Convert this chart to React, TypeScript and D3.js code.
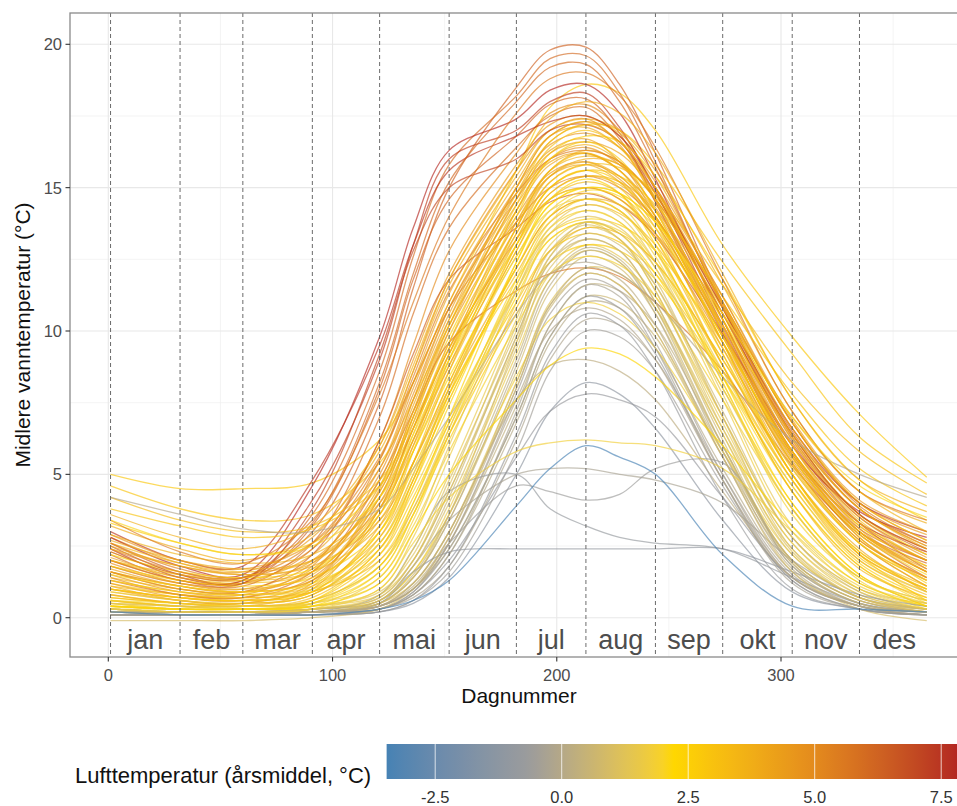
import React from 'react';
import * as d3 from 'd3';

// ---------- data ----------
const KNOT_DAYS = [1, 32, 60, 91, 121, 136, 152, 182, 197, 213, 228, 244, 274, 305, 335, 365];

const MONTH_LABELS = ["jan", "feb", "mar", "apr", "mai", "jun", "jul", "aug", "sep", "okt", "nov", "des"];
const MONTH_START_DAYS = [1, 32, 60, 91, 121, 152, 182, 213, 244, 274, 305, 335, 366];

const Y_TICKS = [0, 5, 10, 15, 20];
const Y_MINOR = [2.5, 7.5, 12.5, 17.5];
const X_TICKS = [0, 100, 200, 300];
const X_MINOR = [50, 150, 250, 350];
const LEGEND_TICKS = [-2.5, 0, 2.5, 5, 7.5];
const AIR_RANGE = [-3.46, 7.9];
const COLOR_STOPS = ["#4682B4", "#9C9C9C", "#FFD700", "#E3891D", "#B22222"];

type Lake = { air: number; t: number[] };

const RED_LAKES: Lake[] = [
  { air: 6.3, t: [2.6, 1.6, 1.4, 3.0, 7.5, 11.5, 15.0, 18.5, 19.8, 19.9, 18.6, 16.2, 11.0, 6.5, 3.8, 2.6] },
  { air: 6.0, t: [2.2, 1.3, 1.3, 3.6, 8.6, 12.6, 15.8, 18.2, 19.5, 19.6, 18.3, 15.9, 10.8, 6.2, 3.5, 2.2] },
  { air: 7.8, t: [2.8, 1.8, 1.5, 4.6, 9.8, 13.6, 16.3, 17.4, 18.4, 18.6, 17.6, 15.3, 10.4, 6.0, 3.7, 2.8] },
  { air: 7.3, t: [2.4, 1.4, 1.3, 4.1, 9.0, 13.0, 16.0, 17.0, 18.0, 18.3, 17.1, 14.9, 10.2, 5.8, 3.3, 2.3] },
  { air: 6.2, t: [1.8, 1.2, 1.2, 3.2, 8.0, 11.8, 14.6, 16.8, 17.9, 18.1, 16.9, 14.5, 9.9, 5.6, 3.0, 1.9] },
  { air: 5.9, t: [2.0, 1.3, 1.1, 2.6, 7.0, 10.6, 13.6, 16.4, 17.5, 17.8, 16.7, 14.6, 10.1, 5.7, 3.1, 2.0] },
  { air: 7.5, t: [3.0, 2.0, 1.8, 4.8, 9.5, 13.0, 15.6, 16.8, 17.3, 17.5, 16.8, 15.0, 10.8, 6.6, 4.0, 3.0] },
  { air: 6.4, t: [1.6, 1.0, 0.9, 2.2, 6.2, 9.2, 11.8, 13.6, 14.5, 14.8, 14.4, 13.3, 9.9, 6.1, 3.3, 1.7] },
  { air: 5.8, t: [1.3, 0.8, 0.7, 1.6, 4.8, 7.2, 9.6, 11.4, 12.0, 12.2, 11.9, 11.0, 8.6, 5.3, 2.9, 1.4] },
  { air: 7.1, t: [2.5, 1.5, 1.2, 3.8, 9.2, 12.8, 15.0, 16.0, 17.0, 17.2, 16.6, 14.8, 10.6, 6.4, 3.6, 2.4] },
  { air: 6.1, t: [2.3, 1.5, 1.4, 3.3, 8.2, 12.0, 15.2, 18.0, 19.2, 19.3, 18.0, 15.7, 10.9, 6.3, 3.6, 2.3] },
  { air: 5.6, t: [3.4, 2.3, 1.9, 3.4, 7.8, 11.0, 14.0, 17.6, 18.8, 19.0, 18.2, 16.4, 11.8, 7.2, 4.4, 3.4] },
];

const ORANGE_LAKES: Lake[] = [
  { air: 5.0, t: [2.0, 1.3, 1.2, 2.4, 6.2, 9.5, 12.8, 16.2, 17.6, 17.9, 17.0, 15.0, 10.4, 5.8, 3.2, 2.0] },
  { air: 4.7, t: [1.5, 0.9, 0.8, 1.8, 5.5, 8.6, 11.8, 15.6, 17.0, 17.4, 16.5, 14.5, 10.0, 5.5, 2.9, 1.6] },
  { air: 4.4, t: [2.8, 1.9, 1.6, 2.8, 6.0, 9.0, 12.0, 15.8, 17.2, 17.5, 16.8, 15.2, 11.2, 6.8, 4.0, 2.9] },
  { air: 4.2, t: [1.0, 0.6, 0.5, 1.2, 4.5, 7.6, 10.8, 14.8, 16.3, 16.7, 15.9, 14.0, 9.6, 5.2, 2.6, 1.1] },
  { air: 4.0, t: [2.3, 1.5, 1.3, 2.2, 5.2, 8.2, 11.3, 15.2, 16.8, 17.1, 16.4, 14.8, 10.8, 6.4, 3.6, 2.4] },
  { air: 4.8, t: [1.9, 1.2, 1.0, 1.9, 5.0, 7.8, 10.8, 14.6, 16.0, 16.4, 15.8, 14.3, 10.4, 6.0, 3.3, 2.0] },
  { air: 3.8, t: [3.2, 2.4, 2.0, 2.9, 5.8, 8.6, 11.6, 15.4, 17.0, 17.4, 17.0, 15.6, 11.6, 7.2, 4.4, 3.3] },
  { air: 4.5, t: [1.2, 0.7, 0.6, 1.3, 4.2, 7.0, 10.0, 14.0, 15.5, 15.9, 15.3, 13.8, 9.8, 5.6, 2.8, 1.3] },
  { air: 5.4, t: [2.6, 1.7, 1.4, 2.4, 5.5, 8.4, 11.4, 14.8, 16.0, 16.3, 15.9, 14.6, 11.0, 6.8, 3.9, 2.6] },
  { air: 4.1, t: [1.7, 1.1, 0.9, 1.6, 4.6, 7.4, 10.4, 14.4, 15.9, 16.2, 15.6, 14.0, 10.0, 5.7, 3.0, 1.7] },
  { air: 3.9, t: [0.8, 0.5, 0.4, 1.0, 3.8, 6.6, 9.6, 13.8, 15.4, 15.8, 15.2, 13.6, 9.4, 5.0, 2.4, 0.9] },
  { air: 4.3, t: [2.1, 1.4, 1.2, 2.0, 4.8, 7.6, 10.6, 15.0, 16.8, 17.3, 16.6, 15.0, 10.9, 6.3, 3.5, 2.1] },
  { air: 3.7, t: [3.6, 2.8, 2.4, 3.2, 6.0, 8.8, 11.8, 15.6, 17.4, 18.0, 17.6, 16.2, 12.0, 7.6, 4.8, 3.7] },
  { air: 4.9, t: [1.4, 0.8, 0.7, 1.4, 4.0, 6.6, 9.4, 13.2, 14.6, 15.0, 14.6, 13.4, 9.6, 5.4, 2.7, 1.4] },
  { air: 5.2, t: [2.4, 1.6, 1.4, 2.6, 5.6, 8.2, 10.8, 13.8, 15.0, 15.4, 15.0, 13.9, 10.6, 6.6, 3.8, 2.5] },
  { air: 3.8, t: [1.1, 0.6, 0.5, 1.1, 3.6, 6.2, 9.2, 13.6, 15.4, 15.9, 15.4, 14.0, 9.8, 5.3, 2.6, 1.1] },
  { air: 4.6, t: [2.9, 2.0, 1.7, 2.6, 5.2, 8.0, 11.0, 15.0, 16.5, 16.9, 16.4, 15.0, 11.2, 6.9, 4.1, 3.0] },
  { air: 4.0, t: [1.6, 1.0, 0.9, 1.7, 4.4, 7.2, 10.2, 14.2, 15.8, 16.2, 15.6, 14.2, 10.2, 5.8, 3.0, 1.6] },
  { air: 4.2, t: [1.6, 1.1, 0.9, 1.3, 3.8, 6.8, 10.0, 14.6, 16.2, 16.6, 16.2, 14.8, 10.6, 6.0, 3.1, 1.6] },
];

const YELLOW_LAKES: Lake[] = [
  { air: 2.8, t: [5.0, 4.5, 4.5, 4.7, 6.2, 8.2, 11.0, 15.6, 17.8, 18.6, 18.3, 17.0, 13.0, 9.8, 7.1, 4.9] },
  { air: 2.9, t: [4.6, 3.8, 3.4, 3.6, 5.4, 7.6, 10.2, 14.6, 16.6, 17.2, 17.0, 15.8, 12.4, 9.2, 6.3, 4.7] },
  { air: 3.2, t: [2.0, 1.4, 1.2, 1.6, 3.8, 6.2, 9.0, 13.6, 15.6, 16.3, 15.9, 14.6, 10.6, 6.2, 3.4, 2.0] },
  { air: 2.7, t: [1.2, 0.8, 0.7, 1.0, 3.0, 5.4, 8.2, 13.0, 15.0, 15.6, 15.2, 13.8, 9.8, 5.6, 2.8, 1.2] },
  { air: 2.4, t: [0.6, 0.4, 0.3, 0.6, 2.4, 4.6, 7.4, 12.4, 14.4, 15.0, 14.6, 13.2, 9.2, 5.0, 2.2, 0.6] },
  { air: 3.5, t: [2.6, 1.9, 1.6, 2.0, 4.2, 6.6, 9.4, 13.8, 15.6, 16.1, 15.8, 14.7, 11.0, 6.8, 4.0, 2.7] },
  { air: 3.6, t: [1.6, 1.1, 0.9, 1.3, 3.4, 5.8, 8.6, 13.2, 15.2, 15.8, 15.4, 14.0, 10.0, 5.8, 3.0, 1.6] },
  { air: 2.6, t: [3.3, 2.6, 2.2, 2.6, 4.6, 7.0, 9.8, 14.2, 16.2, 16.8, 16.6, 15.4, 11.8, 7.6, 4.8, 3.4] },
  { air: 3.1, t: [0.9, 0.6, 0.5, 0.8, 2.6, 4.8, 7.6, 12.2, 14.0, 14.6, 14.2, 12.8, 8.8, 4.8, 2.1, 0.9] },
  { air: 2.2, t: [2.2, 1.6, 1.4, 1.7, 3.6, 5.8, 8.4, 12.6, 14.4, 15.0, 14.8, 13.8, 10.4, 6.4, 3.6, 2.2] },
  { air: 3.3, t: [1.4, 1.0, 0.8, 1.1, 2.8, 5.0, 7.8, 12.0, 13.8, 14.4, 14.1, 13.0, 9.4, 5.4, 2.7, 1.4] },
  { air: 2.0, t: [0.5, 0.3, 0.3, 0.5, 2.0, 4.0, 6.8, 11.6, 13.6, 14.2, 13.8, 12.4, 8.4, 4.4, 1.8, 0.5] },
  { air: 3.6, t: [2.9, 2.2, 1.9, 2.2, 4.0, 6.2, 8.8, 13.0, 14.8, 15.4, 15.2, 14.2, 10.8, 7.0, 4.4, 3.0] },
  { air: 2.5, t: [1.8, 1.3, 1.1, 1.4, 3.0, 5.2, 7.8, 11.8, 13.4, 13.9, 13.7, 12.8, 9.6, 5.8, 3.2, 1.8] },
  { air: 2.8, t: [1.0, 0.7, 0.6, 0.9, 2.2, 4.2, 6.8, 11.0, 12.8, 13.4, 13.1, 12.0, 8.6, 4.8, 2.2, 1.0] },
  { air: 3.0, t: [3.8, 3.2, 2.8, 3.1, 4.6, 6.6, 9.2, 13.2, 15.0, 15.6, 15.4, 14.4, 11.2, 7.8, 5.2, 3.9] },
  { air: 2.3, t: [0.4, 0.3, 0.3, 0.4, 1.6, 3.6, 6.4, 11.2, 13.2, 13.8, 13.4, 12.0, 8.0, 4.0, 1.5, 0.4] },
  { air: 3.9, t: [2.4, 1.8, 1.5, 1.8, 3.4, 5.4, 8.0, 12.2, 14.0, 14.6, 14.4, 13.4, 10.2, 6.4, 3.8, 2.4] },
  { air: 1.9, t: [1.3, 0.9, 0.8, 1.0, 2.4, 4.4, 7.0, 11.4, 13.2, 13.8, 13.5, 12.4, 9.0, 5.2, 2.6, 1.3] },
  { air: 2.6, t: [0.7, 0.5, 0.4, 0.6, 1.8, 3.6, 6.2, 10.6, 12.4, 13.0, 12.8, 11.8, 8.4, 4.6, 1.9, 0.7] },
  { air: 3.5, t: [2.0, 1.5, 1.3, 1.6, 3.2, 5.4, 8.2, 12.8, 14.8, 15.4, 15.1, 13.9, 10.2, 6.0, 3.3, 2.0] },
  { air: 2.1, t: [1.5, 1.1, 0.9, 1.2, 2.6, 4.8, 7.6, 12.2, 14.2, 14.9, 14.7, 13.6, 9.8, 5.6, 2.9, 1.5] },
  { air: 3.2, t: [4.2, 3.4, 3.0, 3.2, 4.8, 6.8, 9.4, 13.4, 15.2, 15.8, 15.7, 14.8, 11.6, 8.2, 5.8, 4.3] },
  { air: 1.9, t: [0.3, 0.2, 0.2, 0.3, 1.4, 3.2, 5.8, 10.2, 12.0, 12.6, 12.3, 11.2, 7.6, 3.8, 1.3, 0.3] },
  { air: 3.8, t: [2.7, 2.0, 1.7, 2.0, 3.8, 6.0, 8.8, 13.4, 15.4, 16.0, 15.8, 14.6, 11.0, 6.8, 4.0, 2.7] },
  { air: 3.4, t: [1.1, 0.8, 0.7, 0.9, 2.0, 3.8, 6.4, 10.8, 12.8, 13.6, 13.4, 12.4, 9.0, 5.0, 2.3, 1.1] },
  { air: 2.9, t: [0.6, 0.4, 0.4, 0.6, 2.2, 4.6, 7.8, 13.0, 15.0, 15.6, 15.0, 13.4, 8.8, 4.4, 1.8, 0.6] },
  { air: 3.4, t: [0.8, 0.5, 0.5, 0.8, 2.8, 5.4, 8.6, 13.6, 15.6, 16.2, 15.6, 13.8, 9.2, 4.8, 2.0, 0.8] },
  { air: 2.4, t: [0.4, 0.3, 0.3, 0.5, 1.8, 4.0, 7.0, 12.4, 14.6, 15.3, 14.8, 13.0, 8.4, 4.0, 1.5, 0.4] },
  { air: 3.7, t: [1.0, 0.7, 0.6, 0.9, 3.2, 6.0, 9.2, 14.2, 16.0, 16.5, 15.9, 14.2, 9.6, 5.0, 2.2, 1.0] },
  { air: 1.9, t: [0.5, 0.3, 0.3, 0.5, 1.6, 3.6, 6.6, 11.8, 14.0, 14.8, 14.4, 12.8, 8.2, 3.8, 1.4, 0.5] },
  { air: 3.3, t: [0.7, 0.5, 0.4, 0.7, 2.4, 4.8, 8.0, 12.8, 14.6, 15.2, 14.8, 13.2, 8.8, 4.4, 1.7, 0.7] },
  { air: 3.6, t: [1.8, 1.2, 1.0, 1.5, 4.2, 7.0, 10.2, 14.8, 16.6, 17.2, 16.6, 15.0, 10.4, 5.8, 3.0, 1.8] },
  { air: 3.1, t: [1.3, 0.9, 0.8, 1.2, 3.6, 6.4, 9.6, 14.4, 16.4, 17.0, 16.4, 14.6, 10.0, 5.4, 2.6, 1.3] },
  { air: 3.9, t: [2.5, 1.8, 1.5, 1.9, 4.4, 7.2, 10.4, 15.0, 16.8, 17.3, 16.9, 15.4, 11.0, 6.6, 3.8, 2.5] },
  { air: 2.7, t: [1.0, 0.7, 0.6, 0.9, 3.0, 5.8, 9.0, 14.0, 16.0, 16.6, 16.0, 14.2, 9.6, 5.0, 2.3, 1.0] },
  { air: 2.1, t: [3.4, 2.6, 2.2, 2.5, 4.2, 6.4, 9.0, 13.0, 14.6, 15.0, 14.8, 13.8, 10.6, 7.0, 4.6, 3.5] },
  { air: 1.8, t: [0.3, 0.2, 0.2, 0.3, 1.0, 2.6, 4.2, 5.8, 6.1, 6.2, 6.1, 6.0, 5.2, 3.0, 1.0, 0.3] },
  { air: 2.3, t: [0.4, 0.3, 0.3, 0.4, 1.2, 3.0, 5.0, 7.6, 8.8, 9.4, 9.2, 8.4, 6.0, 3.2, 1.2, 0.4] },
];

const GRAY_LAKES: Lake[] = [
  { air: 0.5, t: [0.2, 0.2, 0.2, 0.2, 0.4, 1.2, 3.0, 8.0, 10.8, 12.0, 11.6, 10.0, 5.8, 2.0, 0.6, 0.2] },
  { air: 0.0, t: [0.1, 0.1, 0.1, 0.2, 0.3, 0.8, 2.2, 6.8, 9.6, 11.0, 10.8, 9.4, 5.2, 1.6, 0.4, 0.1] },
  { air: 1.6, t: [0.3, 0.2, 0.2, 0.3, 0.6, 1.6, 3.8, 9.2, 11.8, 12.8, 12.4, 10.8, 6.4, 2.4, 0.8, 0.3] },
  { air: 0.3, t: [0.2, 0.1, 0.1, 0.2, 0.4, 1.0, 2.6, 7.4, 10.2, 11.6, 11.4, 10.2, 6.0, 2.0, 0.6, 0.2] },
  { air: -0.5, t: [0.1, 0.1, 0.1, 0.1, 0.2, 0.6, 1.6, 5.8, 8.6, 10.0, 9.8, 8.6, 4.6, 1.3, 0.3, 0.1] },
  { air: 1.4, t: [0.4, 0.3, 0.3, 0.4, 0.8, 2.0, 4.4, 9.6, 12.0, 13.0, 12.6, 11.2, 7.0, 2.8, 1.0, 0.4] },
  { air: -1.2, t: [0.1, 0.1, 0.1, 0.1, 0.2, 0.5, 1.4, 5.0, 7.2, 8.2, 7.8, 6.6, 3.4, 0.9, 0.3, 0.1] },
  { air: -0.8, t: [0.2, 0.1, 0.1, 0.2, 0.3, 0.8, 2.0, 5.6, 7.2, 7.8, 7.6, 7.0, 4.2, 1.4, 0.4, 0.2] },
  { air: 0.8, t: [0.2, 0.2, 0.2, 0.2, 0.5, 1.4, 3.4, 8.6, 11.4, 12.6, 12.2, 10.6, 6.0, 2.0, 0.6, 0.2] },
  { air: 1.2, t: [0.3, 0.2, 0.2, 0.3, 0.5, 1.2, 3.0, 8.2, 11.0, 12.2, 12.0, 10.8, 6.6, 2.6, 0.8, 0.3] },
  { air: -0.2, t: [0.1, 0.1, 0.1, 0.1, 0.3, 0.7, 1.8, 6.2, 9.0, 10.4, 10.2, 9.0, 5.0, 1.5, 0.4, 0.1] },
  { air: 0.6, t: [0.2, 0.2, 0.2, 0.2, 0.4, 1.0, 2.4, 7.0, 9.8, 11.2, 11.0, 9.8, 5.6, 1.9, 0.5, 0.2] },
  { air: 1.2, t: [0.5, 0.4, 0.3, 0.4, 0.9, 2.2, 4.8, 10.0, 12.6, 13.6, 13.2, 11.6, 7.0, 2.8, 1.0, 0.5] },
  { air: -0.4, t: [0.1, 0.1, 0.1, 0.2, 0.3, 0.9, 2.6, 7.8, 10.6, 11.8, 11.4, 9.6, 5.0, 1.4, 0.4, 0.1] },
  { air: 0.2, t: [0.2, 0.2, 0.2, 0.2, 0.4, 1.2, 3.0, 7.6, 8.8, 9.0, 8.6, 7.6, 4.4, 1.4, 0.4, 0.2] },
  { air: 1.8, t: [0.3, 0.3, 0.3, 0.3, 0.6, 1.6, 3.6, 8.4, 10.4, 11.0, 10.6, 9.4, 5.8, 2.2, 0.7, 0.3] },
  { air: -0.3, t: [0.2, 0.2, 0.2, 0.2, 0.6, 1.8, 3.4, 5.0, 5.2, 5.2, 5.0, 4.8, 4.0, 2.0, 0.7, 0.3] },
  { air: -0.9, t: [0.2, 0.2, 0.2, 0.2, 0.8, 2.4, 4.4, 5.0, 3.8, 3.2, 2.8, 2.6, 2.4, 1.4, 0.5, 0.2] },
  { air: -0.6, t: [0.1, 0.1, 0.1, 0.2, 0.4, 1.0, 2.6, 4.6, 4.4, 4.1, 4.3, 5.2, 5.4, 1.8, 0.5, 0.2] },
  { air: 1.5, t: [0.3, 0.2, 0.2, 0.3, 0.8, 2.4, 5.0, 10.4, 13.0, 13.8, 13.2, 11.4, 6.8, 2.6, 0.9, 0.3] },
  { air: 1.0, t: [0.2, 0.2, 0.2, 0.2, 0.6, 1.8, 4.0, 9.4, 12.2, 13.2, 12.8, 11.0, 6.4, 2.2, 0.7, 0.2] },
  { air: 1.7, t: [0.4, 0.3, 0.3, 0.4, 1.0, 2.8, 5.6, 11.0, 13.4, 14.2, 13.8, 12.2, 7.6, 3.0, 1.1, 0.4] },
  { air: 0.1, t: [0.2, 0.1, 0.1, 0.2, 0.5, 1.4, 3.4, 8.8, 11.6, 12.8, 12.4, 10.6, 5.8, 1.8, 0.5, 0.2] },
  { air: -0.6, t: [0.1, 0.1, 0.1, 0.1, 0.3, 0.9, 2.4, 7.0, 9.8, 11.2, 10.8, 9.2, 4.8, 1.3, 0.3, 0.1] },
  { air: 0.7, t: [0.3, 0.2, 0.2, 0.3, 0.7, 2.0, 4.4, 9.8, 12.4, 13.4, 13.0, 11.6, 7.2, 2.8, 0.9, 0.3] },
  { air: 1.6, t: [0.9, 0.6, 0.5, 0.8, 2.6, 5.0, 8.0, 12.6, 14.2, 14.6, 14.2, 12.8, 8.6, 4.6, 2.0, 0.9] },
  { air: 1.3, t: [0.6, 0.4, 0.4, 0.6, 1.8, 3.8, 6.6, 11.4, 13.4, 14.0, 13.6, 12.2, 8.0, 3.8, 1.4, 0.6] },
  { air: -0.1, t: [4.2, 3.6, 3.1, 3.0, 3.8, 5.2, 7.0, 10.6, 12.0, 12.4, 12.0, 11.0, 8.4, 6.2, 5.0, 4.2] },
  { air: -1.0, t: [0.2, 0.2, 0.2, 0.2, 0.5, 1.6, 2.3, 2.4, 2.4, 2.4, 2.4, 2.4, 2.4, 1.6, 0.8, 0.4] },
  { air: 0.9, t: [-0.1, -0.1, -0.1, 0.0, 0.3, 1.0, 2.8, 8.2, 10.9, 12.0, 11.6, 10.0, 5.6, 1.6, 0.3, -0.1] },
  { air: 0.4, t: [0.2, 0.2, 0.2, 0.2, 0.5, 1.5, 3.6, 9.0, 11.8, 12.9, 12.5, 10.8, 6.0, 1.9, 0.5, 0.2] },
  { air: 1.1, t: [0.3, 0.2, 0.2, 0.3, 0.7, 2.0, 4.6, 10.2, 12.8, 13.7, 13.2, 11.4, 6.6, 2.3, 0.7, 0.3] },
  { air: -0.3, t: [0.1, 0.1, 0.1, 0.1, 0.3, 0.8, 2.2, 7.2, 10.2, 11.6, 11.2, 9.4, 4.8, 1.2, 0.3, 0.1] },
  { air: 0.9, t: [0.2, 0.2, 0.2, 0.2, 0.5, 1.4, 3.6, 9.6, 12.6, 13.8, 13.4, 11.8, 7.0, 2.4, 0.7, 0.2] },
  { air: 0.2, t: [0.1, 0.1, 0.1, 0.2, 0.4, 1.1, 2.8, 8.0, 10.9, 12.2, 11.8, 10.2, 5.6, 1.7, 0.4, 0.1] },
  { air: 1.4, t: [0.5, 0.4, 0.4, 0.5, 1.2, 3.0, 6.0, 11.4, 13.6, 14.4, 14.0, 12.4, 7.8, 3.2, 1.2, 0.5] },
  { air: -0.7, t: [0.1, 0.1, 0.1, 0.1, 0.2, 0.6, 1.8, 6.4, 9.2, 10.6, 10.2, 8.6, 4.2, 1.0, 0.3, 0.1] },
  { air: 0.6, t: [0.3, 0.2, 0.2, 0.3, 0.6, 1.8, 4.2, 9.8, 12.4, 13.2, 12.8, 11.0, 6.2, 2.0, 0.6, 0.3] },
  { air: 1.9, t: [0.6, 0.5, 0.4, 0.5, 1.4, 3.4, 6.4, 11.6, 13.8, 14.6, 14.2, 12.6, 8.2, 3.6, 1.4, 0.6] },
  { air: -0.1, t: [0.2, 0.1, 0.1, 0.2, 0.4, 1.0, 2.6, 7.6, 10.0, 10.8, 10.4, 9.0, 4.8, 1.4, 0.4, 0.2] },
];

const BLUE_LAKES: Lake[] = [
  { air: -3.4, t: [0.2, 0.1, 0.1, 0.1, 0.3, 0.6, 1.3, 3.9, 5.2, 6.0, 5.6, 5.0, 2.2, 0.4, 0.3, 0.2] },
];

// ---------- layout ----------
const W = 957;
const H = 806;
const PANEL = { left: 70, top: 13, right: 968, bottom: 657 };
const FONT = "'Liberation Sans', Arial, Helvetica, sans-serif";

export default function App() {
  const x = d3.scaleLinear().domain([0, 300]).range([108.3, 781]);
  const y = d3.scaleLinear().domain([0, 20]).range([617.7, 44.3]);
  const legX = d3.scaleLinear().domain([0, 2.5]).range([561.7, 688.2]);

  const stopVals = d3.range(COLOR_STOPS.length).map(
    (i) => AIR_RANGE[0] + (i * (AIR_RANGE[1] - AIR_RANGE[0])) / (COLOR_STOPS.length - 1)
  );
  const color = d3
    .scaleLinear<string>()
    .domain(stopVals)
    .range(COLOR_STOPS)
    .interpolate(d3.interpolateLab)
    .clamp(true);

  const families = [GRAY_LAKES, YELLOW_LAKES, ORANGE_LAKES, RED_LAKES];
  const maxLen = d3.max(families, (f) => f.length) as number;
  const ordered: Lake[] = [];
  for (let i = 0; i < maxLen; i++) {
    families.forEach((f) => {
      if (i < f.length) ordered.push(f[i]);
    });
  }
  BLUE_LAKES.forEach((l) => ordered.push(l));

  const line = d3
    .line<[number, number]>()
    .x((d) => x(d[0]))
    .y((d) => y(d[1]))
    .curve(d3.curveCatmullRom.alpha(0.5));

  const gradStops = d3.range(0, 1.0001, 0.02).map((f) => {
    const v = AIR_RANGE[0] + f * (AIR_RANGE[1] - AIR_RANGE[0]);
    return { off: f, c: color(v) };
  });
  const barX0 = legX(AIR_RANGE[0]);
  const barX1 = legX(AIR_RANGE[1]);

  return (
    <svg
      width={W}
      height={H}
      style={{ position: 'absolute', left: 0, top: 0, background: '#fff', fontFamily: FONT }}
    >
      <defs>
        <clipPath id="panelClip">
          <rect x={PANEL.left} y={PANEL.top} width={PANEL.right - PANEL.left} height={PANEL.bottom - PANEL.top} />
        </clipPath>
        <linearGradient id="airGrad" gradientUnits="userSpaceOnUse" x1={barX0} x2={barX1} y1={0} y2={0}>
          {gradStops.map((s, i) => (
            <stop key={i} offset={s.off} stopColor={s.c} />
          ))}
        </linearGradient>
      </defs>

      <rect x={0} y={0} width={W} height={H} fill="#fff" />

      <g clipPath="url(#panelClip)">
        {Y_MINOR.map((v) => (
          <line key={'ym' + v} x1={PANEL.left} x2={PANEL.right} y1={y(v)} y2={y(v)} stroke="#efefef" strokeWidth={0.7} />
        ))}
        {X_MINOR.map((v) => (
          <line key={'xm' + v} x1={x(v)} x2={x(v)} y1={PANEL.top} y2={PANEL.bottom} stroke="#efefef" strokeWidth={0.7} />
        ))}
        {Y_TICKS.map((v) => (
          <line key={'yM' + v} x1={PANEL.left} x2={PANEL.right} y1={y(v)} y2={y(v)} stroke="#e8e8e8" strokeWidth={1.1} />
        ))}
        {X_TICKS.map((v) => (
          <line key={'xM' + v} x1={x(v)} x2={x(v)} y1={PANEL.top} y2={PANEL.bottom} stroke="#e8e8e8" strokeWidth={1.1} />
        ))}

        {ordered.map((lake, i) => (
          <path
            key={i}
            d={line(KNOT_DAYS.map((d, j) => [d, lake.t[j]] as [number, number])) || ''}
            fill="none"
            stroke={color(lake.air)}
            strokeWidth={1.3}
            strokeOpacity={0.66}
          />
        ))}

        {MONTH_START_DAYS.slice(0, 12).map((d) => (
          <line
            key={'m' + d}
            x1={x(d)}
            x2={x(d)}
            y1={PANEL.top}
            y2={PANEL.bottom}
            stroke="#5a5a5a"
            strokeWidth={0.9}
            strokeDasharray="4 3"
          />
        ))}

        {MONTH_LABELS.map((m, i) => (
          <text
            key={m}
            x={x((MONTH_START_DAYS[i] + MONTH_START_DAYS[i + 1]) / 2)}
            y={649}
            textAnchor="middle"
            fontSize={27}
            fill="#4d4d4d"
          >
            {m}
          </text>
        ))}
      </g>

      <rect
        x={PANEL.left}
        y={PANEL.top}
        width={PANEL.right - PANEL.left}
        height={PANEL.bottom - PANEL.top}
        fill="none"
        stroke="#8a8a8a"
        strokeWidth={1.3}
      />

      {Y_TICKS.map((v) => (
        <g key={'yt' + v}>
          <line x1={PANEL.left - 4.5} x2={PANEL.left} y1={y(v)} y2={y(v)} stroke="#333" strokeWidth={1.1} />
          <text x={PANEL.left - 8} y={y(v) + 6} textAnchor="end" fontSize={16.5} fill="#4d4d4d">
            {v}
          </text>
        </g>
      ))}
      {X_TICKS.map((v) => (
        <g key={'xt' + v}>
          <line x1={x(v)} x2={x(v)} y1={PANEL.bottom} y2={PANEL.bottom + 4.5} stroke="#333" strokeWidth={1.1} />
          <text x={x(v)} y={681} textAnchor="middle" fontSize={16.5} fill="#4d4d4d">
            {v}
          </text>
        </g>
      ))}

      <text x={(PANEL.left + PANEL.right) / 2} y={703} textAnchor="middle" fontSize={21} fill="#111">
        Dagnummer
      </text>
      <text
        transform={`translate(30, ${(PANEL.top + PANEL.bottom) / 2}) rotate(-90)`}
        textAnchor="middle"
        fontSize={21}
        fill="#111"
      >
        Midlere vanntemperatur (°C)
      </text>

      <text x={75} y={783} fontSize={22} fill="#111">
        Lufttemperatur (årsmiddel, °C)
      </text>
      <rect x={barX0} y={744} width={barX1 - barX0} height={35} fill="url(#airGrad)" />
      {LEGEND_TICKS.map((v) => (
        <g key={'lt' + v}>
          <line x1={legX(v)} x2={legX(v)} y1={744} y2={779} stroke="#fff" strokeOpacity={0.75} strokeWidth={1} />
          <text x={legX(v)} y={803} textAnchor="middle" fontSize={16.5} fill="#333">
            {v.toFixed(1)}
          </text>
        </g>
      ))}
    </svg>
  );
}
